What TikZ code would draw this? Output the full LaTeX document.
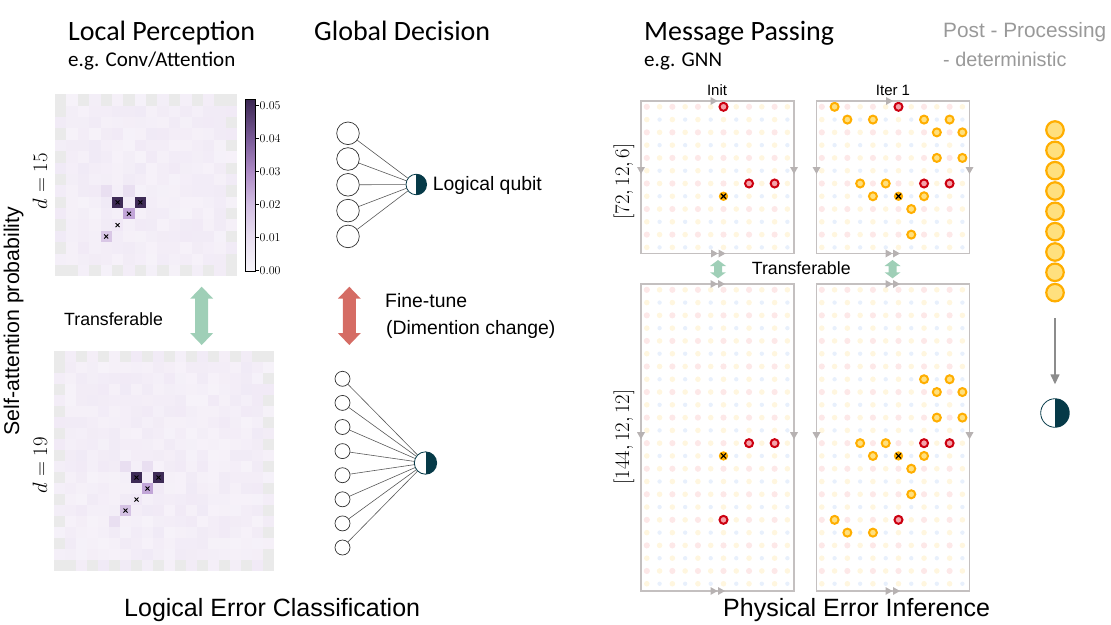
\documentclass[tikz,border=0pt]{standalone}
\usepackage{fontspec}
\setmainfont{Liberation Sans}
\newfontfamily\calibri{Carlito}
\usetikzlibrary{arrows.meta}

\definecolor{qteal}{HTML}{063A48}
\definecolor{qred}{HTML}{CC0010}
\definecolor{qredlt}{HTML}{F4A3AA}
\definecolor{qorange}{HTML}{FFAE00}
\definecolor{qorangelt}{HTML}{FFE07E}
\definecolor{xdotc}{HTML}{FDE8E8}
\definecolor{ddotc}{HTML}{FFF6DF}
\definecolor{zdotc}{HTML}{E8F0FC}
\definecolor{boxgray}{HTML}{C4C0C0}
\definecolor{trigray}{HTML}{B7B2B2}
\definecolor{mint}{HTML}{9FCFB7}
\definecolor{salmon}{HTML}{D56C64}
\definecolor{edgecell}{HTML}{EAEAEA}
\definecolor{cellbase}{HTML}{F6F2F9}
\definecolor{cellvar}{HTML}{EEE6F4}
\definecolor{hdark}{HTML}{3E2B56}
\definecolor{hmid}{HTML}{C2A6D8}
\definecolor{hlite}{HTML}{D9C7E6}
\definecolor{hpale}{HTML}{F0E8F6}
\definecolor{hfaint}{HTML}{E9DFF1}
\definecolor{cbA}{HTML}{F7F5FA}
\definecolor{cbB}{HTML}{E9DFF1}
\definecolor{cbC}{HTML}{D3BFE3}
\definecolor{cbD}{HTML}{AE8BC6}
\definecolor{cbE}{HTML}{7A5B98}
\definecolor{cbF}{HTML}{3B2752}

\pgfdeclareverticalshading{attnbar}{100bp}{color(0bp)=(cbA); color(25bp)=(cbA); color(34.6bp)=(cbB); color(44.2bp)=(cbC); color(53.8bp)=(cbD); color(63.5bp)=(cbE); color(75bp)=(cbF); color(100bp)=(cbF)}

% attention map, #1 = last cell index
\newcommand{\attnmap}[1]{%
  \foreach \row in {0,...,#1} {
    \foreach \col in {0,...,#1} {
      \pgfmathtruncatemacro{\isedge}{(\row==0 && mod(\col,2)==0) || (\row==#1 && mod(\col,2)==1) || (\col==0 && mod(\row,2)==1) || (\col==#1 && mod(\row,2)==0)}
      \ifnum\isedge=1
        \fill[edgecell] (\col,\row) rectangle ++(1,1);
      \else
        \pgfmathrandominteger{\shadeval}{0}{70}
        \fill[cellvar!\shadeval!cellbase] (\col,\row) rectangle ++(1,1);
      \fi
    }
  }
}
\newcommand{\xmark}[2]{\draw[line width=0.9pt] ({#1+0.5},{#2+0.5}) +(-2pt,-2pt) -- +(2pt,2pt) +(-2pt,2pt) -- +(2pt,-2pt);}

% qubit layout, #1 = last row index
\newcommand{\dotgrid}[1]{%
  \foreach \row in {0,...,#1} {
    \foreach \col in {0,...,11} {
      \ifodd\row\relax
        \ifodd\col\relax \fill[zdotc] (\col,\row) circle (2.2pt);
        \else \fill[ddotc] (\col,\row) circle (2.8pt); \fi
      \else
        \ifodd\col\relax \fill[ddotc] (\col,\row) circle (2.8pt);
        \else \fill[xdotc] (\col,\row) circle (3.1pt); \fi
      \fi
    }
  }
}
\newcommand{\chk}[2]{\filldraw[chkq] (#1,#2) circle (4pt);}
\newcommand{\flip}[2]{\filldraw[datq] (#1,#2) circle (4pt);}
\newcommand{\err}[2]{\fill[qorange] (#1,#2) circle (4.7pt);
  \draw[line width=1.1pt] (#1,#2) +(-2.6pt,-2.6pt) -- +(2.6pt,2.6pt) +(-2.6pt,2.6pt) -- +(2.6pt,-2.6pt);}

% periodic boundary marks
\newcommand{\rtri}[2]{\fill[trigray] ({#1-3.5},{#2-4}) -- ({#1+3.5},{#2}) -- ({#1-3.5},{#2+4}) -- cycle;}
\newcommand{\dtri}[2]{\fill[trigray] ({#1-4},{#2-3.5}) -- ({#1},{#2+3.5}) -- ({#1+4},{#2-3.5}) -- cycle;}

% x, ytop, ybot, head half width, shaft half width, head length, colour
\newcommand{\dblarrow}[7]{\fill[#7] (#1,#2) -- ({#1+#4},{#2+#6}) -- ({#1+#5},{#2+#6}) -- ({#1+#5},{#3-#6}) -- ({#1+#4},{#3-#6}) -- (#1,#3) -- ({#1-#4},{#3-#6}) -- ({#1-#5},{#3-#6}) -- ({#1-#5},{#2+#6}) -- ({#1-#4},{#2+#6}) -- cycle;}

\begin{document}
\begin{tikzpicture}[x=1pt, y=-1pt,
  title/.style={font=\calibri\fontsize{28}{32}\selectfont, anchor=base west, inner sep=0pt},
  subtitle/.style={font=\calibri\fontsize{21}{24}\selectfont, anchor=base west, inner sep=0pt},
  lbl/.style={font=\fontsize{19.4}{22}\selectfont, anchor=base west, inner sep=0pt},
  small/.style={font=\fontsize{17.7}{20}\selectfont, anchor=base west, inner sep=0pt},
  tiny/.style={font=\fontsize{15}{17}\selectfont, anchor=base, inner sep=0pt},
  caption/.style={font=\fontsize{25}{28}\selectfont, anchor=base west, inner sep=0pt},
  postlbl/.style={font=\fontsize{20.8}{24}\selectfont, anchor=base west, inner sep=0pt, text=black!40},
  mathlbl/.style={font=\fontsize{22}{24}\selectfont, rotate=90, inner sep=0pt},
  cbtick/.style={font=\fontsize{12.5}{14}\selectfont, anchor=west, inner sep=0pt},
  inp/.style={circle, draw=black!80, line width=0.7pt, minimum size=22.6pt, inner sep=0pt},
  inps/.style={inp, minimum size=15pt},
  halfq/.style={circle, draw=qteal, line width=0.8pt, inner sep=0pt,
    path picture={\fill[qteal] (path picture bounding box.north) rectangle (path picture bounding box.south east);}},
  wire/.style={draw=black!65, line width=0.6pt},
  post/.style={circle, draw=qorange, fill=qorangelt, line width=2.2pt, minimum size=17.5pt, inner sep=0pt},
  flow/.style={draw=black!45, line width=1.4pt, -{Triangle[length=10pt, width=9pt]}, shorten <=16pt, shorten >=14pt},
  gridbox/.style={draw=boxgray, line width=1.8pt},
  chkq/.style={draw=qred, fill=qredlt, line width=2pt},
  datq/.style={draw=qorange, fill=qorangelt, line width=2pt}]

\useasboundingbox (0,0) rectangle (1111,624);
\pgfmathsetseed{7}

% titles
\node[title] (lp) at (68,40) {Local Perception};
\node[subtitle] (lpsub) at (68,66.7) {e.g. Conv/Attention};
\node[title] (gd) at (314,40) {Global Decision};
\node[title] (mp) at (644,40) {Message Passing};
\node[subtitle] (mpsub) at (644,66.7) {e.g. GNN};
\node[postlbl] (pp) at (943,37.5) {Post - Processing};
\node[postlbl, font=\fontsize{19.8}{22}\selectfont] (ppsub) at (943,66.7) {- deterministic};
\node[caption] (lec) at (124,616) {Logical Error Classification};
\node[caption] (pei) at (723,616) {Physical Error Inference};

% attention maps
\node[font=\fontsize{21.3}{24}\selectfont, rotate=90, inner sep=0pt] (sap) at (13.5,321) {Self-attention probability};
\node[mathlbl] (d15) at (40,181) {$d = 15$};
\node[mathlbl] (d19) at (40,465) {$d = 19$};

\begin{scope}[shift={(55,94.3)}, x=11.375pt, y=-11.375pt]
  \attnmap{15}
  \fill[hfaint] (4,8) rectangle ++(1,1);
  \fill[hfaint] (6,8) rectangle ++(1,1);
  \fill[hdark] (5,9) rectangle ++(1,1);
  \fill[hdark] (7,9) rectangle ++(1,1);
  \fill[hmid] (6,10) rectangle ++(1,1);
  \fill[hpale] (5,11) rectangle ++(1,1);
  \fill[hlite] (4,12) rectangle ++(1,1);
  \foreach \cx/\cy in {5/9, 7/9, 6/10, 5/11, 4/12} {\xmark{\cx}{\cy}}
\end{scope}

\begin{scope}[shift={(54,351)}, x=11pt, y=-11pt]
  \attnmap{19}
  \fill[hfaint] (6,10) rectangle ++(1,1);
  \fill[hfaint] (8,10) rectangle ++(1,1);
  \fill[hfaint] (5,15) rectangle ++(1,1);
  \fill[hdark] (7,11) rectangle ++(1,1);
  \fill[hdark] (9,11) rectangle ++(1,1);
  \fill[hmid] (8,12) rectangle ++(1,1);
  \fill[hpale] (7,13) rectangle ++(1,1);
  \fill[hlite!85!hmid] (6,14) rectangle ++(1,1);
  \foreach \cx/\cy in {7/11, 9/11, 8/12, 7/13, 6/14} {\xmark{\cx}{\cy}}
\end{scope}

% colour bar
\shade[shading=attnbar] (245.7,99.3) rectangle (255.7,271.7);
\draw[line width=0.8pt] (245.7,99.3) rectangle (255.7,271.7);
\foreach \v/\y [count=\k] in {0.00/270.7, 0.01/237.6, 0.02/204.5, 0.03/171.4, 0.04/138.3, 0.05/105.2} {
  \draw[line width=0.6pt] (255.7,\y) -- (258.7,\y);
  \node[cbtick] (tick\k) at (259.5,\y) {$\v$};
}

\dblarrow{201.7}{286.7}{345}{11.5}{6.5}{12}{mint}
\node[small] (tf1) at (64,325.3) {Transferable};

% decision heads
\foreach \i/\y in {1/133.3, 2/159, 3/184.8, 4/210.6, 5/236.4}
  \node[inp] (a\i) at (348,\y) {};
\node[halfq, minimum size=20.6pt] (qa) at (416.3,184.5) {};
\foreach \i in {1,...,5}
  \draw[wire] (a\i) -- (qa);
\node[lbl] (lq) at (432.7,190.5) {Logical qubit};

\dblarrow{349.3}{286.7}{345}{11.5}{6.5}{12}{salmon}
\node[lbl] (ft) at (385,307.5) {Fine-tune};
\node[lbl] (dc) at (386,334) {(Dimention change)};

\foreach \i in {1,...,8}
  \node[inps] (b\i) at (342.5,{378.8+24.1*(\i-1)}) {};
\node[halfq, minimum size=22.4pt] (qb) at (425.5,463) {};
\foreach \i in {1,...,8}
  \draw[wire] (b\i) -- (qb);

% message passing
\node[rotate=90, font=\fontsize{21.5}{24}\selectfont, inner sep=0pt] (c72) at (624,181.5) {$[72, 12, 6]$};
\node[rotate=90, font=\fontsize{21.5}{24}\selectfont, inner sep=0pt] (c144) at (624,437) {$[144, 12, 12]$};
\node[tiny] (init) at (717,95) {Init};
\node[tiny] (iter) at (893,95) {Iter 1};

% [72,12,6] init
\begin{scope}[shift={(646.8,106.8)}, x=12.78pt, y=-12.78pt]
  \dotgrid{11}
  \chk{6}{0} \chk{8}{6} \chk{10}{6}
  \err{6}{7}
\end{scope}
\draw[gridbox] (641,101) rectangle (794,253.5);
\rtri{714}{101} \rtri{714.5}{253.5} \rtri{722}{253.5}
\dtri{641}{170.5} \dtri{794}{170.5}

% [72,12,6] iter 1
\begin{scope}[shift={(821.8,106.8)}, x=12.78pt, y=-12.78pt]
  \dotgrid{11}
  \flip{1}{0} \chk{6}{0}
  \flip{2}{1} \flip{4}{1} \flip{8}{1} \flip{10}{1}
  \flip{9}{2} \flip{11}{2}
  \flip{9}{4} \flip{11}{4}
  \flip{3}{6} \flip{5}{6} \chk{8}{6} \chk{10}{6}
  \flip{4}{7} \flip{8}{7} \err{6}{7}
  \flip{7}{8}
  \flip{7}{10}
\end{scope}
\draw[gridbox] (816.5,101) rectangle (969.5,253.5);
\rtri{889.5}{101} \rtri{889}{253.5} \rtri{896.5}{253.5}
\dtri{816.5}{170.5} \dtri{969.5}{170.5}

% [144,12,12] init
\begin{scope}[shift={(646.8,289.8)}, x=12.78pt, y=-12.78pt]
  \dotgrid{23}
  \chk{8}{12} \chk{10}{12}
  \err{6}{13}
  \chk{6}{18}
\end{scope}
\draw[gridbox] (641,284) rectangle (794,591);
\rtri{714}{284} \rtri{721.5}{284} \rtri{714}{591} \rtri{721.5}{591}
\dtri{641}{435.7} \dtri{794}{435.7}

% [144,12,12] iter 1
\begin{scope}[shift={(821.8,289.8)}, x=12.78pt, y=-12.78pt]
  \dotgrid{23}
  \flip{8}{7} \flip{10}{7}
  \flip{9}{8} \flip{11}{8}
  \flip{9}{10} \flip{11}{10}
  \flip{3}{12} \flip{5}{12} \chk{8}{12} \chk{10}{12}
  \flip{4}{13} \flip{8}{13} \err{6}{13}
  \flip{7}{14}
  \flip{7}{16}
  \flip{1}{18} \chk{6}{18}
  \flip{2}{19} \flip{4}{19}
\end{scope}
\draw[gridbox] (816.5,284) rectangle (969.5,591);
\rtri{889}{284} \rtri{896.5}{284} \rtri{889}{591} \rtri{896.5}{591}
\dtri{816.5}{435.7} \dtri{969.5}{435.7}

\dblarrow{718}{260}{278.3}{8}{4}{6}{mint}
\dblarrow{892.5}{260}{278.3}{8}{4}{6}{mint}
\node[small] (tf2) at (751.7,274) {Transferable};

% post-processing
\foreach \i in {1,...,9}
  \node[post] (p\i) at (1055,{130+20.33*(\i-1)}) {};
\node[halfq, minimum size=28.6pt] (res) at (1055,413) {};
\draw[flow] (p9) -- (res);

\end{tikzpicture}
\end{document}
